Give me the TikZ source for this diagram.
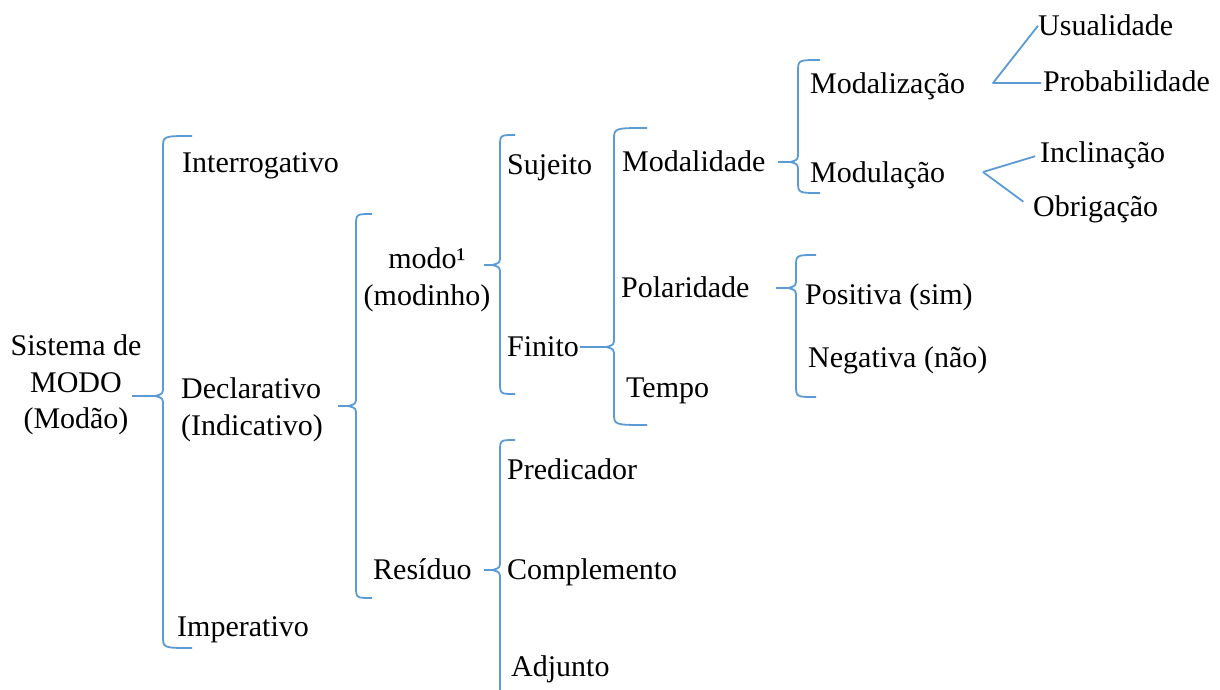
\documentclass[tikz,border=0pt]{standalone}
\usepackage{fontspec}
\setmainfont{Liberation Serif}
\definecolor{azul}{HTML}{5B9BD5}

\newcommand{\chave}[6]{%
  \draw[chave] (#2+#6, #3) .. controls (#2, #3) .. (#2, #3+12)
    -- (#2, #4-10) .. controls (#2, #4-2) .. (#2-8, #4) coordinate (#1)
    .. controls (#2, #4+2) .. (#2, #4+10)
    -- (#2, #5-12) .. controls (#2, #5) .. (#2+#6, #5);}

\begin{document}
\begin{tikzpicture}[x = 1pt, y = -1pt,
  chave/.style = {draw = azul, line width = 1.8pt, line join = round},
  ramo/.style = {draw = azul, line width = 1.8pt},
  rotulo/.style = {inner sep = 0pt, anchor = base west, font = \fontsize{30}{36.5}\selectfont}]
\useasboundingbox (0, 0) rectangle (1220, 690);

\node[rotulo, anchor = center, align = center] (sistema) at (76, 385) {Sistema de\\MODO\\(Modão)};
\node[rotulo] (interrogativo) at (182, 172) {Interrogativo};
\node[rotulo, anchor = west, align = left] (declarativo) at (181, 410) {Declarativo\\(Indicativo)};
\node[rotulo] (imperativo) at (177, 636) {Imperativo};
\node[rotulo, anchor = center, align = center] (modo) at (427, 280) {modo¹\\(modinho)};
\node[rotulo] (residuo) at (373, 579) {Resíduo};
\node[rotulo] (sujeito) at (507, 174) {Sujeito};
\node[rotulo] (finito) at (507, 356) {Finito};
\node[rotulo] (predicador) at (507, 479) {Predicador};
\node[rotulo] (complemento) at (507, 579) {Complemento};
\node[rotulo] (adjunto) at (511, 676) {Adjunto};
\node[rotulo] (modalidade) at (622, 171) {Modalidade};
\node[rotulo] (polaridade) at (621, 297) {Polaridade};
\node[rotulo] (tempo) at (626, 397) {Tempo};
\node[rotulo] (modalizacao) at (810, 94) {Modalização};
\node[rotulo] (modulacao) at (810, 182) {Modulação};
\node[rotulo] (positiva) at (805, 304) {Positiva (sim)};
\node[rotulo] (negativa) at (808, 367) {Negativa (não)};
\node[rotulo] (usualidade) at (1038, 36) {Usualidade};
\node[rotulo] (probabilidade) at (1043, 92) {Probabilidade};
\node[rotulo] (inclinacao) at (1040, 162) {Inclinação};
\node[rotulo] (obrigacao) at (1033, 216) {Obrigação};

\chave{t1}{163}{136}{396}{648}{29}
\chave{t2}{356}{214}{406}{598}{16}
\chave{t3}{500}{135}{265}{394}{15}
\chave{t4}{614}{128}{347}{425}{33}
\chave{t5}{798}{60}{162}{193}{22}
\chave{t6}{796}{255}{288}{397}{20}
\chave{t7}{500}{440}{570}{720}{15}

\draw[ramo, shorten <= -10pt] (sistema.east |- t1) -- (t1);
\draw[ramo, shorten <= 15pt] (declarativo.east |- t2) -- (t2);
\draw[ramo, shorten <= -7pt] (modo.east |- t3) -- (t3);
\draw[ramo, shorten <= 1pt] (finito.east |- t4) -- (t4);
\draw[ramo, shorten <= 12pt] (modalidade.east |- t5) -- (t5);
\draw[ramo, shorten <= 26pt] (polaridade.east |- t6) -- (t6);
\draw[ramo, shorten <= 12pt] (residuo.east |- t7) -- (t7);

\coordinate (v1) at (993, 83);
\coordinate (v2) at (983, 172);
\draw[ramo, line join = round, shorten >= 2pt] (usualidade.west) -- (v1) -- (v1 -| probabilidade.west);
\draw[ramo, shorten >= 5pt] (v2) -- (inclinacao.west);
\draw[ramo, shorten >= 12pt] (v2) -- (obrigacao.west);
\end{tikzpicture}
\end{document}
